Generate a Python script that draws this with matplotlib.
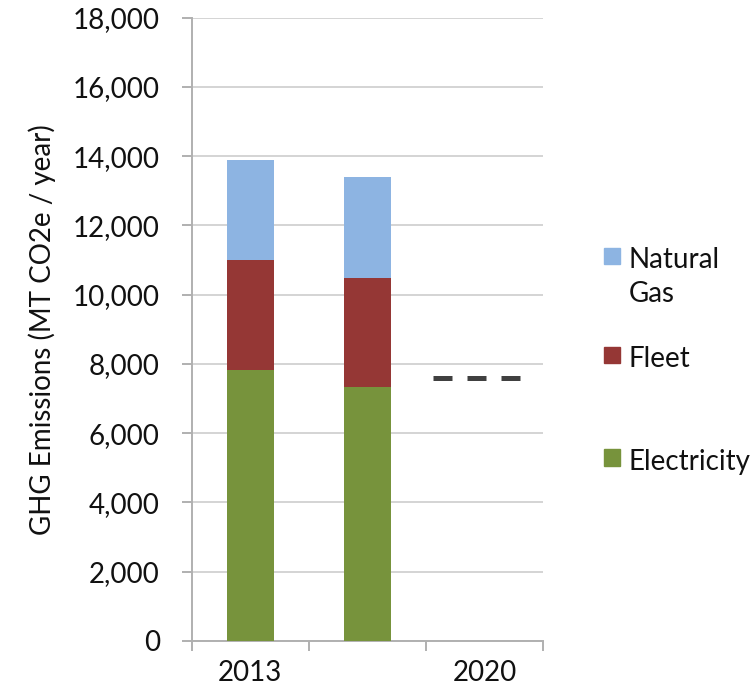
import numpy as np
import matplotlib
matplotlib.use('Agg')
import matplotlib.pyplot as plt
from matplotlib.patches import Rectangle

plt.rcParams['font.family'] = ['Lato', 'DejaVu Sans']

categories = ['2013', '', '2020']
series = ['Natural\nGas', 'Fleet', 'Electricity']
electricity = [7840, 7340]
fleet = [3150, 3130]
natural_gas = [2890, 2920]
target_2020 = 7600
colors = {'Electricity': '#77933C', 'Fleet': '#953735', 'Natural\nGas': '#8DB4E2'}

size = 20

fig = plt.figure(figsize=(7.53, 6.99), dpi=100)
ax = fig.add_axes([0.2546, 0.0830, 0.4668, 0.8917])

x = np.arange(len(electricity))
ax.bar(x, electricity, width=0.4, color=colors['Electricity'], zorder=3)
ax.bar(x, fleet, width=0.4, bottom=electricity, color=colors['Fleet'], zorder=3)
ax.bar(x, natural_gas, width=0.4, bottom=np.array(electricity) + np.array(fleet),
       color=colors['Natural\nGas'], zorder=3)

# 2020 target as a dashed line
ax.hlines(target_2020, 2 - 0.44, 2 + 0.32, color='#404040', linewidth=3.6,
          linestyles=(0, (3.8, 3.0)), capstyle='butt', zorder=4)

ax.set_xlim(-0.5, 2.5)
ax.set_ylim(0, 18000)
ax.set_yticks(np.arange(0, 18001, 2000))
ax.yaxis.set_major_formatter(matplotlib.ticker.FuncFormatter(lambda v, p: f'{int(v):,}'))
ax.grid(axis='y', color='#d4d4d4', linewidth=1.4, zorder=0)

ax.set_xticks(x.tolist() + [2])
ax.set_xticklabels(categories)
ax.set_xticks([-0.5, 0.5, 1.5, 2.5], minor=True)
ax.tick_params(axis='x', which='major', length=0, labelsize=size, pad=14, labelcolor='#111111')
ax.tick_params(axis='x', which='minor', length=7, color='#b0b0b0', width=1.4)
ax.tick_params(axis='y', length=7, color='#b0b0b0', width=1.4, labelsize=size, pad=16,
               labelcolor='#111111')

for side in ['top', 'right']:
    ax.spines[side].set_visible(False)
for side in ['left', 'bottom']:
    ax.spines[side].set_color('#b0b0b0')
    ax.spines[side].set_linewidth(1.4)

ax.set_ylabel('GHG Emissions (MT CO2e / year)', fontsize=size, labelpad=12, color='#111111')

# legend drawn by hand to mimic spreadsheet layout
legend_y = [0.633, 0.492, 0.345]
for name, ly in zip(series, legend_y):
    fig.add_artist(Rectangle((0.802, ly - 0.011), 0.0215, 0.023,
                             transform=fig.transFigure, color=colors[name]))
    fig.text(0.835, ly + 0.013, name, fontsize=size, va='top', ha='left',
             linespacing=1.35, color='#111111')

plt.savefig('out.png', dpi=100)
